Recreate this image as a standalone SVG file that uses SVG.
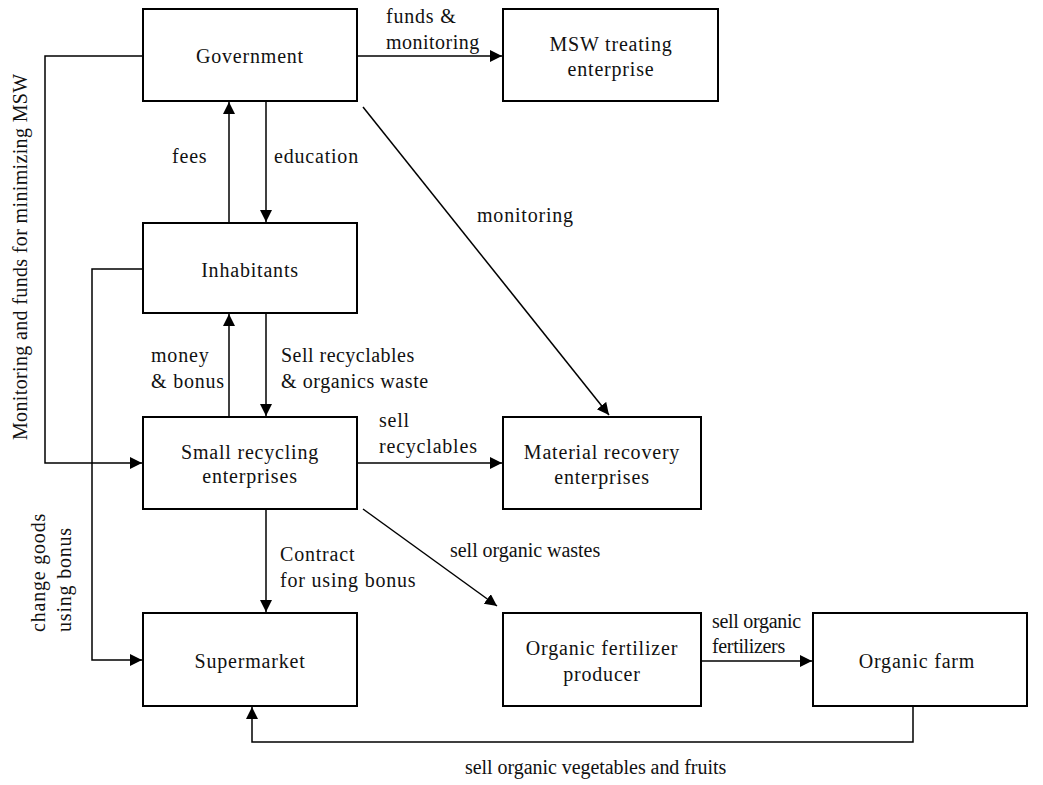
<svg xmlns="http://www.w3.org/2000/svg" width="1043" height="785" viewBox="0 0 1043 785">
<style>
.box{fill:#fff;stroke:#000;stroke-width:2}
.ln{fill:none;stroke:#000;stroke-width:1.5}
.t text{font-size:20px;letter-spacing:0.8px;fill:#111}
.c{text-anchor:middle}
</style>
<defs>
<marker id="ah" markerUnits="userSpaceOnUse" markerWidth="13" markerHeight="13" refX="12" refY="6" orient="auto">
<path d="M0,0 L12,6 L0,12 z" fill="#000"/>
</marker>
</defs>
<rect width="1043" height="785" fill="#fff"/>
<g class="t" font-family="'Liberation Serif', 'DejaVu Serif', serif">
<g id="connectors">
<path class="ln" d="M143,56 H45 V463 H142" marker-end="url(#ah)"/>
<path class="ln" d="M357,56 H502" marker-end="url(#ah)"/>
<path class="ln" d="M229,223 V102" marker-end="url(#ah)"/>
<path class="ln" d="M266,101 V222" marker-end="url(#ah)"/>
<path class="ln" d="M363,107 L609,415" marker-end="url(#ah)"/>
<path class="ln" d="M143,269 H92 V660 H142" marker-end="url(#ah)"/>
<path class="ln" d="M229,417 V314" marker-end="url(#ah)"/>
<path class="ln" d="M266,313 V416" marker-end="url(#ah)"/>
<path class="ln" d="M357,463 H502" marker-end="url(#ah)"/>
<path class="ln" d="M266,509 V612" marker-end="url(#ah)"/>
<path class="ln" d="M363,509 L497,606" marker-end="url(#ah)"/>
<path class="ln" d="M701,661 H812" marker-end="url(#ah)"/>
<path class="ln" d="M913,706 V742 H252 V707" marker-end="url(#ah)"/>
<text x="386" y="23">funds &amp;</text>
<text x="386" y="49" textLength="94" lengthAdjust="spacing">monitoring</text>
<text x="172" y="163">fees</text>
<text x="274" y="163">education</text>
<text x="477" y="222">monitoring</text>
<text x="151" y="362">money</text>
<text x="151" y="388">&amp; bonus</text>
<text x="281" y="362" textLength="134" lengthAdjust="spacing">Sell recyclables</text>
<text x="281" y="388" textLength="148" lengthAdjust="spacing">&amp; organics waste</text>
<text x="379" y="427">sell</text>
<text x="379" y="453">recyclables</text>
<text x="280" y="561">Contract</text>
<text x="280" y="587">for using bonus</text>
<text x="450" y="557" textLength="151" lengthAdjust="spacing">sell organic wastes</text>
<text x="712" y="628" textLength="90" lengthAdjust="spacing">sell organic</text>
<text x="712" y="653" textLength="74" lengthAdjust="spacing">fertilizers</text>
<text x="465" y="774" textLength="262" lengthAdjust="spacing">sell organic vegetables and fruits</text>
<text x="27" y="440" transform="rotate(-90 27 440)" textLength="367" lengthAdjust="spacing">Monitoring and funds for minimizing MSW</text>
<text x="45" y="632" transform="rotate(-90 45 632)">change goods</text>
<text x="71" y="632" transform="rotate(-90 71 632)">using bonus</text>
</g>
<g id="government">
<rect class="box" x="143" y="9" width="214" height="92"/>
<text class="c" x="250" y="63">Government</text>
</g>
<g id="msw">
<rect class="box" x="503" y="9" width="215" height="92"/>
<text class="c" x="611" y="51">MSW treating</text>
<text class="c" x="611" y="76">enterprise</text>
</g>
<g id="inhabitants">
<rect class="box" x="143" y="223" width="214" height="90"/>
<text class="c" x="250" y="277">Inhabitants</text>
</g>
<g id="small">
<rect class="box" x="143" y="417" width="214" height="92"/>
<text class="c" x="250" y="459">Small recycling</text>
<text class="c" x="250" y="483">enterprises</text>
</g>
<g id="material">
<rect class="box" x="503" y="417" width="198" height="92"/>
<text class="c" x="602" y="459">Material recovery</text>
<text class="c" x="602" y="484">enterprises</text>
</g>
<g id="supermarket">
<rect class="box" x="143" y="613" width="214" height="93"/>
<text class="c" x="250" y="668">Supermarket</text>
</g>
<g id="fertilizer">
<rect class="box" x="503" y="613" width="198" height="93"/>
<text class="c" x="602" y="655">Organic fertilizer</text>
<text class="c" x="602" y="681">producer</text>
</g>
<g id="farm">
<rect class="box" x="813" y="613" width="214" height="93"/>
<text class="c" x="917" y="668">Organic farm</text>
</g>
</g>
</svg>
